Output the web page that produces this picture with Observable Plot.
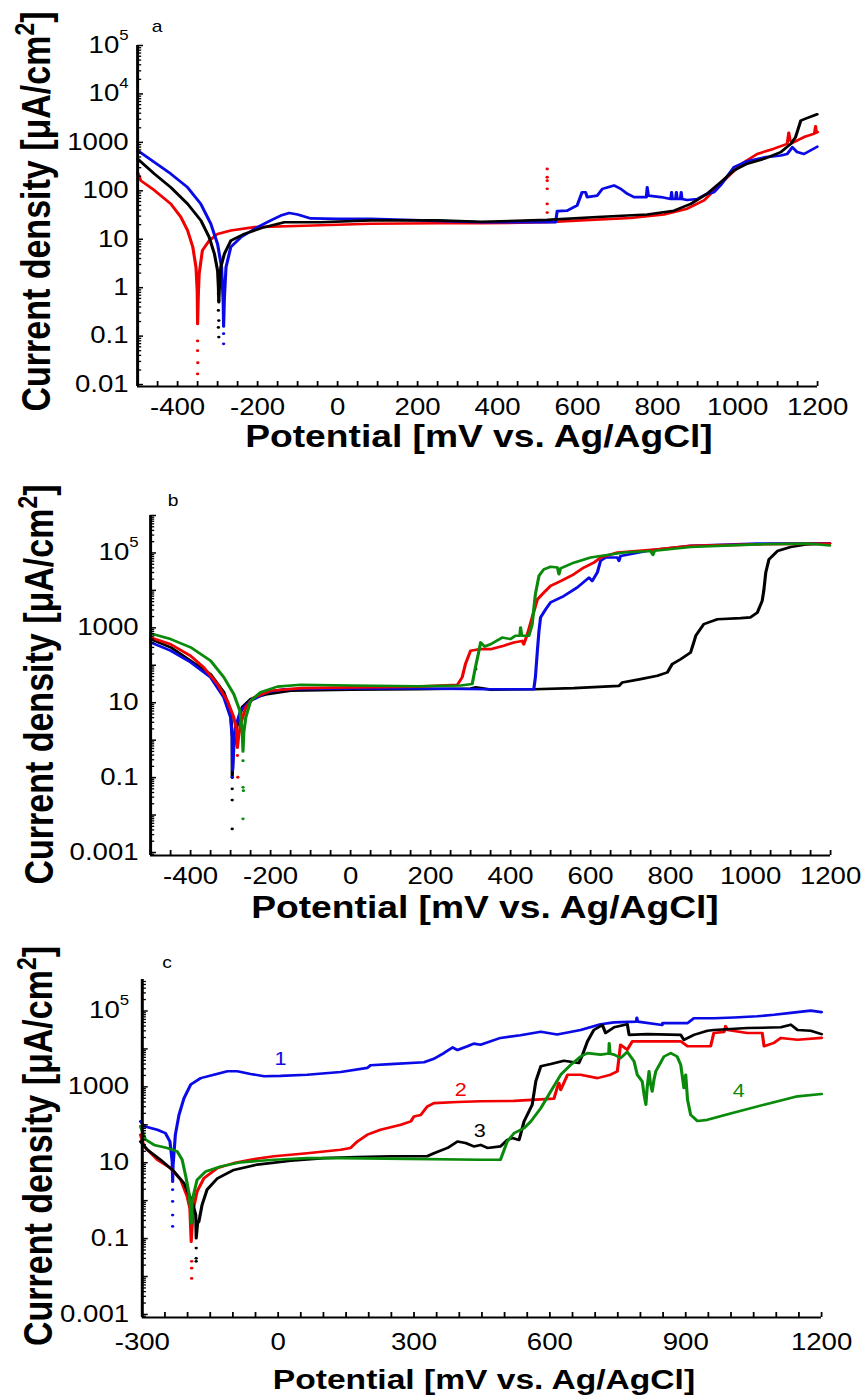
<!DOCTYPE html>
<html><head><meta charset="utf-8">
<script src="https://cdn.jsdelivr.net/npm/d3@7"></script>
<script src="https://cdn.jsdelivr.net/npm/@observablehq/plot@0.6"></script>
<style>
html,body{margin:0;padding:0;background:#fff;}
#wrap{position:relative;width:719.1667px;height:1396px;transform:scaleX(1.2);transform-origin:0 0;}
#wrap svg{position:absolute;left:0;display:block;overflow:visible;background:transparent;}
</style></head><body><div id="wrap"></div>
<script>
// ---------- DATA (potential in mV, log10 of current density in µA/cm²) ----------
// Panel a
const aRed = [[-500,2.38],[-492,2.21],[-458,2.01],[-417,1.73],[-392,1.46],[-375,1.18],[-362,0.84],[-354,0.42],[-351,-0.06],[-350,-0.75],[-348,-0.1],[-346,0.29],[-338,0.77],[-321,0.97],[-300,1.11],[-267,1.18],[-208,1.25],[-83,1.28],[83,1.32],[250,1.33],[358,1.33],[524,1.35],[608,1.39],[733,1.44],[816,1.51],[874,1.63],[916,1.80],[949,2.07],[983,2.35],[1016,2.59],[1049,2.76],[1091,2.87],[1124,2.97],[1128,3.2],[1131,3.05],[1137,2.99],[1166,3.11],[1192,3.18],[1195,3.33],[1197,3.2],[1200,3.21]];
const aRedDots = [[-350,-1.1],[-350,-1.3],[-349.5,-1.55],[-350,-1.78],[524,2.45],[524,2.28],[524,2.21],[524,2.04],[524,1.73],[524,1.55]];
const aBlack = [[-500,2.66],[-458,2.35],[-417,2.07],[-375,1.73],[-342,1.39],[-321,1.04],[-308,0.70],[-300,0.35],[-298,0.0],[-297,-0.3],[-295,0.1],[-292,0.42],[-283,0.70],[-267,0.97],[-233,1.11],[-183,1.25],[-133,1.35],[-42,1.35],[83,1.39],[250,1.39],[358,1.36],[524,1.40],[649,1.46],[774,1.51],[841,1.59],[883,1.73],[924,1.94],[958,2.18],[991,2.42],[1024,2.56],[1066,2.66],[1108,2.80],[1133,2.97],[1145,3.11],[1158,3.45],[1170,3.49],[1199,3.58]];
const aBlackDots = [[-298,-0.13],[-297,-0.27],[-298,-0.47],[-297,-0.68],[-298,-0.82],[-297,-1.02]];
const aBlue = [[-500,2.83],[-458,2.59],[-417,2.35],[-375,2.07],[-342,1.73],[-317,1.32],[-300,0.90],[-290,0.42],[-286,-0.3],[-285,-0.8],[-283,-0.2],[-279,0.42],[-267,0.84],[-242,1.04],[-200,1.25],[-167,1.39],[-142,1.49],[-121,1.54],[-100,1.51],[-67,1.43],[0,1.42],[83,1.42],[208,1.39],[358,1.35],[545,1.35],[549,1.58],[574,1.59],[599,1.70],[611,1.97],[620,1.97],[624,1.87],[649,1.90],[662,2.04],[674,2.07],[691,2.11],[708,2.04],[724,1.94],[741,1.87],[766,1.87],[772,1.87],[774,2.07],[777,1.90],[808,1.87],[833,1.83],[835,1.97],[837,1.83],[845,1.83],[847,1.97],[849,1.83],[857,1.83],[859,1.97],[861,1.83],[874,1.81],[899,1.83],[924,1.94],[941,1.97],[958,2.12],[991,2.49],[1024,2.61],[1066,2.69],[1108,2.73],[1124,2.76],[1137,2.90],[1149,2.80],[1166,2.76],[1199,2.91]];
const aBlueDots = [[-285,-0.95],[-285,-1.16]];

// Panel b
const bGreen = [[-500,2.85],[-450,2.70],[-400,2.48],[-350,2.12],[-317,1.68],[-292,1.23],[-277,0.79],[-271,0.25],[-269,-0.3],[-267,0.2],[-262,0.61],[-250,1.05],[-225,1.28],[-183,1.43],[-125,1.48],[0,1.46],[167,1.44],[275,1.46],[304,1.50],[312,1.94],[321,2.39],[325,2.61],[335,2.5],[350,2.56],[379,2.74],[400,2.70],[412,2.79],[423,2.79],[425,3.01],[428,2.79],[446,2.79],[454,3.10],[462,3.90],[471,4.39],[483,4.56],[500,4.63],[517,4.61],[521,4.43],[525,4.59],[558,4.74],[600,4.88],[625,4.92],[650,4.96],[683,5.01],[750,5.05],[756,4.95],[760,5.06],[850,5.16],[1017,5.23],[1142,5.25],[1198,5.20]];
const bGreenDots = [[-269,-0.55],[-269,-1.26],[-268,-1.35],[-269,-2.1]];
const bRed = [[-500,2.74],[-450,2.56],[-400,2.25],[-367,1.94],[-333,1.50],[-308,1.05],[-292,0.61],[-285,0.25],[-283,-0.2],[-280,0.1],[-275,0.43],[-262,0.88],[-242,1.14],[-200,1.32],[-125,1.39],[0,1.41],[167,1.43],[267,1.48],[279,1.68],[287,2.03],[300,2.39],[321,2.43],[350,2.43],[383,2.52],[408,2.61],[429,2.65],[433,2.56],[442,2.83],[454,3.28],[467,3.76],[483,3.94],[500,4.12],[525,4.25],[558,4.43],[583,4.61],[608,4.74],[625,4.88],[667,5.01],[767,5.10],[850,5.19],[1017,5.23],[1198,5.25]];
const bRedDots = [[-283,-0.41],[-282,-0.99]];
const bBlue = [[-500,2.61],[-450,2.39],[-400,2.08],[-350,1.68],[-317,1.14],[-300,0.61],[-296,0.08],[-295,-0.8],[-292,-0.2],[-288,0.34],[-275,0.79],[-250,1.05],[-208,1.28],[-167,1.36],[0,1.38],[167,1.38],[350,1.36],[458,1.36],[462,1.68],[467,2.39],[471,2.92],[475,3.28],[488,3.50],[500,3.68],[533,3.85],[567,4.08],[596,4.34],[604,4.25],[617,4.48],[625,4.79],[638,4.88],[667,4.88],[671,4.79],[675,4.92],[750,5.07],[850,5.19],[1017,5.25],[1198,5.26]];
const bBlueDots = [[-296,-0.99]];
const bBlack = [[-500,2.70],[-450,2.48],[-400,2.12],[-350,1.76],[-317,1.28],[-300,0.79],[-296,0.08],[-296,-1.0],[-293,-0.2],[-285,0.34],[-271,0.88],[-250,1.10],[-208,1.23],[-150,1.32],[0,1.35],[167,1.36],[300,1.38],[313,1.41],[350,1.35],[458,1.36],[558,1.39],[671,1.45],[679,1.54],[725,1.63],[767,1.72],[792,1.81],[804,2.03],[825,2.16],[850,2.34],[858,2.61],[863,2.79],[883,3.10],[917,3.23],[975,3.26],[1000,3.28],[1017,3.41],[1029,3.72],[1033,3.99],[1038,4.48],[1046,4.83],[1067,5.05],[1100,5.16],[1142,5.23],[1198,5.26]];
const bBlackDots = [[-296,-1.3],[-296,-1.6],[-296,-2.37],[313,1.9]];

// Panel c
const cBlue = [[-304,2.09],[-296,1.96],[-267,1.87],[-249,1.78],[-239,1.56],[-234,1.03],[-233,0.5],[-232,0.94],[-227,1.74],[-219,2.26],[-208,2.70],[-193,3.06],[-171,3.23],[-142,3.32],[-112,3.41],[-90,3.41],[-61,3.34],[-31,3.28],[5,3.29],[64,3.32],[138,3.39],[197,3.50],[204,3.57],[248,3.60],[322,3.65],[344,3.74],[366,3.89],[385,4.04],[396,3.97],[418,4.07],[432,4.14],[447,4.11],[491,4.29],[535,4.36],[580,4.45],[616,4.38],[668,4.50],[712,4.65],[742,4.70],[791,4.72],[792,4.82],[794,4.72],[848,4.63],[849,4.68],[904,4.68],[918,4.81],[962,4.81],[1007,4.83],[1058,4.86],[1095,4.90],[1132,4.95],[1176,5.01],[1200,4.97]];
const cBlueDots = [[-233,0.29],[-233,-0.02],[-233,-0.38],[-233,-0.68]];
const cRed = [[-304,1.74],[-296,1.43],[-267,1.08],[-238,0.86],[-215,0.55],[-201,0.11],[-195,-0.2],[-192,-1.08],[-189,-0.5],[-187,-0.2],[-179,0.24],[-164,0.59],[-134,0.86],[-98,0.99],[-61,1.08],[-9,1.17],[64,1.25],[138,1.34],[160,1.39],[175,1.56],[197,1.74],[226,1.87],[271,2.0],[293,2.09],[300,2.22],[315,2.26],[329,2.48],[344,2.57],[396,2.60],[447,2.62],[521,2.63],[609,2.69],[616,2.97],[620,3.1],[624,2.92],[639,3.32],[668,3.32],[705,3.23],[734,3.32],[749,3.41],[756,4.11],[771,3.98],[782,4.20],[889,4.20],[904,4.07],[955,4.07],[962,4.42],[985,4.45],[988,4.6],[992,4.5],[1036,4.42],[1069,4.42],[1073,4.07],[1095,4.16],[1110,4.29],[1147,4.24],[1200,4.29]];
const cRedDots = [[-191,-1.6],[-191,-1.78],[-191,-2.05]];
const cBlack = [[-304,1.56],[-289,1.34],[-260,1.08],[-230,0.77],[-208,0.46],[-190,-0.02],[-182,-0.37],[-181,-0.99],[-178,-0.6],[-175,-0.55],[-168,-0.11],[-157,0.29],[-134,0.59],[-98,0.81],[-46,0.95],[28,1.05],[101,1.12],[175,1.15],[248,1.17],[329,1.17],[344,1.25],[374,1.39],[396,1.56],[414,1.52],[432,1.43],[447,1.47],[462,1.39],[491,1.43],[506,1.60],[517,1.65],[532,1.60],[543,2.09],[561,2.53],[569,3.15],[580,3.54],[602,3.60],[631,3.69],[653,3.65],[664,3.63],[672,3.84],[683,4.20],[697,4.50],[716,4.63],[723,4.42],[742,4.57],[771,4.65],[775,4.37],[815,4.39],[889,4.37],[896,4.24],[918,4.37],[948,4.48],[962,4.50],[1036,4.55],[1110,4.57],[1132,4.64],[1147,4.50],[1176,4.48],[1200,4.39]];
const cBlackDots = [[-181,-1.25],[-181,-1.52],[-181,-1.6]];
const cGreen = [[-304,1.96],[-293,1.61],[-274,1.47],[-245,1.39],[-223,1.30],[-212,1.08],[-204,0.64],[-197,0.20],[-193,-0.24],[-192,-0.6],[-190,-0.1],[-187,0.15],[-179,0.55],[-160,0.77],[-127,0.90],[-83,1.01],[-9,1.08],[64,1.12],[138,1.12],[285,1.10],[447,1.08],[491,1.08],[506,1.56],[521,1.78],[543,1.91],[558,2.09],[580,2.44],[602,2.88],[624,3.32],[646,3.58],[668,3.80],[683,3.89],[712,3.85],[730,3.88],[731,4.15],[733,3.87],[742,3.85],[756,3.76],[771,3.92],[786,3.67],[793,3.32],[804,3.14],[808,2.8],[812,2.53],[815,3.0],[819,3.41],[822,3.1],[826,2.88],[830,3.2],[834,3.41],[852,3.80],[867,3.89],[881,3.80],[889,3.58],[896,2.97],[900,3.32],[904,2.66],[911,2.26],[926,2.10],[948,2.13],[999,2.30],[1073,2.53],[1147,2.75],[1200,2.81]];
const cLabels = ["1", "2", "3", "4"];
const cLabelX = [5, 403, 445, 1017];
const cLabelY = [3.72, 2.92, 1.82, 2.88];

// tick labels
const abXTicks = [-400, -200, 0, 200, 400, 600, 800, 1000, 1200];
const cXTicks = [-300, 0, 300, 600, 900, 1200];
const aYTicks = [0.01, 0.1, 1, 10, 100, 1000, 1e4, 1e5];
const bcYTicks = [0.001, 0.1, 10, 1000, 1e5];

const RED = "#f00000", BLUE = "#0a0ae6", BLACK = "#000000", GREEN = "#0a8a0a";

// ---------- RENDER ----------
const S = 1.2, W = 863 / S;
const FONT = "'Liberation Sans', Arial, Helvetica, sans-serif";
const TICK_FS = 23;
const wrap = document.getElementById("wrap");

function fmtY(v) {
  const e = Math.round(Math.log10(v));
  if (e >= 4) return "10^" + e;
  return e < 0 ? v.toFixed(-e) : String(Math.round(v));
}
function logTicks(lo, hi, major) {
  const t = [];
  for (let e = Math.floor(lo) - 1; e <= Math.ceil(hi); e++)
    for (let k = 1; k <= 9; k++) {
      if (major !== (k === 1)) continue;
      const v = k * 10 ** e;
      if (Math.log10(v) >= lo - 1e-9 && Math.log10(v) <= hi + 1e-9) t.push(v);
    }
  return t;
}
const P = d => d[0], L = d => 10 ** d[1];

function panel(c) {
  const marks = [];
  for (const s of c.series) {
    marks.push(Plot.line(s.data, {x: P, y: L, stroke: s.color, strokeWidth: 2.6, strokeLinejoin: "round"}));
    if (s.dots) marks.push(Plot.dot(s.dots, {x: P, y: L, r: 1.4, fill: s.color, stroke: null}));
  }
  if (c.extra) marks.push(...c.extra);
  marks.push(
    Plot.ruleY([10 ** c.yExp[0]], {stroke: "black", strokeWidth: 2}),
    Plot.ruleX([c.xDomain[0]], {stroke: "black", strokeWidth: 2.5}),
    Plot.axisX({ticks: d3.range(c.xDomain[0], c.xDomain[1] + 1, 50), tickSize: 5, dy: -5, fill: "none", strokeWidth: 1.5, label: null}),
    Plot.axisY({ticks: logTicks(c.yExp[0], c.yExp[1], false), tickSize: 3.5, dx: 3.5, fill: "none", strokeWidth: 1.3, label: null}),
    Plot.axisY({ticks: logTicks(c.yExp[0], c.yExp[1], true), tickSize: 5, dx: 5, fill: "none", strokeWidth: 1.5, label: null}),
    Plot.axisX({ticks: c.xTicks, tickSize: 0, tickPadding: c.xPad, tickFormat: d => String(d), fontSize: TICK_FS, label: null}),
    Plot.axisY({ticks: c.yTicks, tickSize: 0, tickPadding: c.yPad, tickFormat: fmtY, fontSize: TICK_FS, label: null})
  );
  const svg = Plot.plot({
    width: W, height: c.height,
    marginTop: c.mt, marginBottom: c.mb, marginLeft: c.ml, marginRight: c.mr,
    style: {fontFamily: FONT, fontSize: TICK_FS + "px", color: "black", background: "transparent", overflow: "visible"},
    x: {domain: c.xDomain},
    y: {type: "log", domain: [10 ** c.yExp[0], 10 ** c.yExp[1]]},
    marks
  });
  svg.style.top = c.top + "px";
  const g = d3.select(svg);
  // superscript tick labels like 10^5
  g.selectAll("text").each(function () {
    const m = /^10\^(\d)$/.exec(this.textContent);
    if (m) {
      const s = d3.select(this);
      s.text("10");
      s.append("tspan").attr("dy", -13).style("font-size", "14px").text(m[1]);
    }
  });
  // y title
  const yt = g.append("text")
    .attr("transform", `translate(${c.yTitle[0]},${c.yTitle[1]}) rotate(-90)`)
    .attr("text-anchor", "middle").attr("font-family", FONT)
    .style("font-size", "34px").attr("font-weight", "bold").attr("fill", "black");
  yt.append("tspan").text("Current density [μA/cm");
  yt.append("tspan").attr("dy", -13).style("font-size", "23px").text("2");
  yt.append("tspan").attr("dy", 13).text("]");
  // x title
  g.append("text").attr("x", c.xTitle[0]).attr("y", c.xTitle[1])
    .attr("text-anchor", "middle").attr("font-family", FONT)
    .style("font-size", c.xTitleSize + "px").attr("font-weight", "bold").attr("fill", "black")
    .text("Potential [mV vs. Ag/AgCl]");
  // panel letter
  g.append("text").attr("x", c.letterPos[0]).attr("y", c.letterPos[1])
    .attr("text-anchor", "middle").attr("font-family", FONT)
    .style("font-size", "16px").attr("fill", "black").text(c.letter);
  wrap.appendChild(svg);
}

panel({
  top: 0, height: 465, mt: 45, mb: 79, ml: 137 / S, mr: W - 817 / S,
  xDomain: [-500, 1200], yExp: [-2.04, 5], xTicks: abXTicks, yTicks: aYTicks,
  xPad: 12, yPad: 7.5,
  series: [
    {data: aRed, dots: aRedDots, color: RED},
    {data: aBlue, dots: aBlueDots, color: BLUE},
    {data: aBlack, dots: aBlackDots, color: BLACK}
  ],
  yTitle: [50 / S, 211.5], xTitle: [479 / S, 447], xTitleSize: 31,
  letter: "a", letterPos: [157 / S, 32]
});

panel({
  top: 465, height: 462, mt: 50, mb: 72, ml: 150 / S, mr: W - 830 / S,
  xDomain: [-500, 1200], yExp: [-3.08, 6], xTicks: abXTicks, yTicks: bcYTicks,
  xPad: 12, yPad: 10,
  series: [
    {data: bBlack, dots: bBlackDots, color: BLACK},
    {data: bBlue, dots: bBlueDots, color: BLUE},
    {data: bRed, dots: bRedDots, color: RED},
    {data: bGreen, dots: bGreenDots, color: GREEN}
  ],
  yTitle: [53 / S, 219.5], xTitle: [485 / S, 453], xTitleSize: 31,
  letter: "b", letterPos: [173 / S, 41]
});

const cColors = [BLUE, RED, BLACK, GREEN];
panel({
  top: 927, height: 469, mt: 52, mb: 79, ml: 141.7 / S, mr: W - 821 / S,
  xDomain: [-300, 1200], yExp: [-3.08, 5.83], xTicks: cXTicks, yTicks: bcYTicks,
  xPad: 16.5, yPad: 11,
  series: [
    {data: cBlue, dots: cBlueDots, color: BLUE},
    {data: cRed, dots: cRedDots, color: RED},
    {data: cBlack, dots: cBlackDots, color: BLACK},
    {data: cGreen, color: GREEN}
  ],
  extra: cLabels.map((t, i) => Plot.text([i], {x: cLabelX[i], y: 10 ** cLabelY[i], text: () => t, fill: cColors[i], fontSize: 18})),
  yTitle: [52 / S, 219], xTitle: [484 / S, 462], xTitleSize: 28,
  letter: "c", letterPos: [167 / S, 41]
});
</script></body></html>
